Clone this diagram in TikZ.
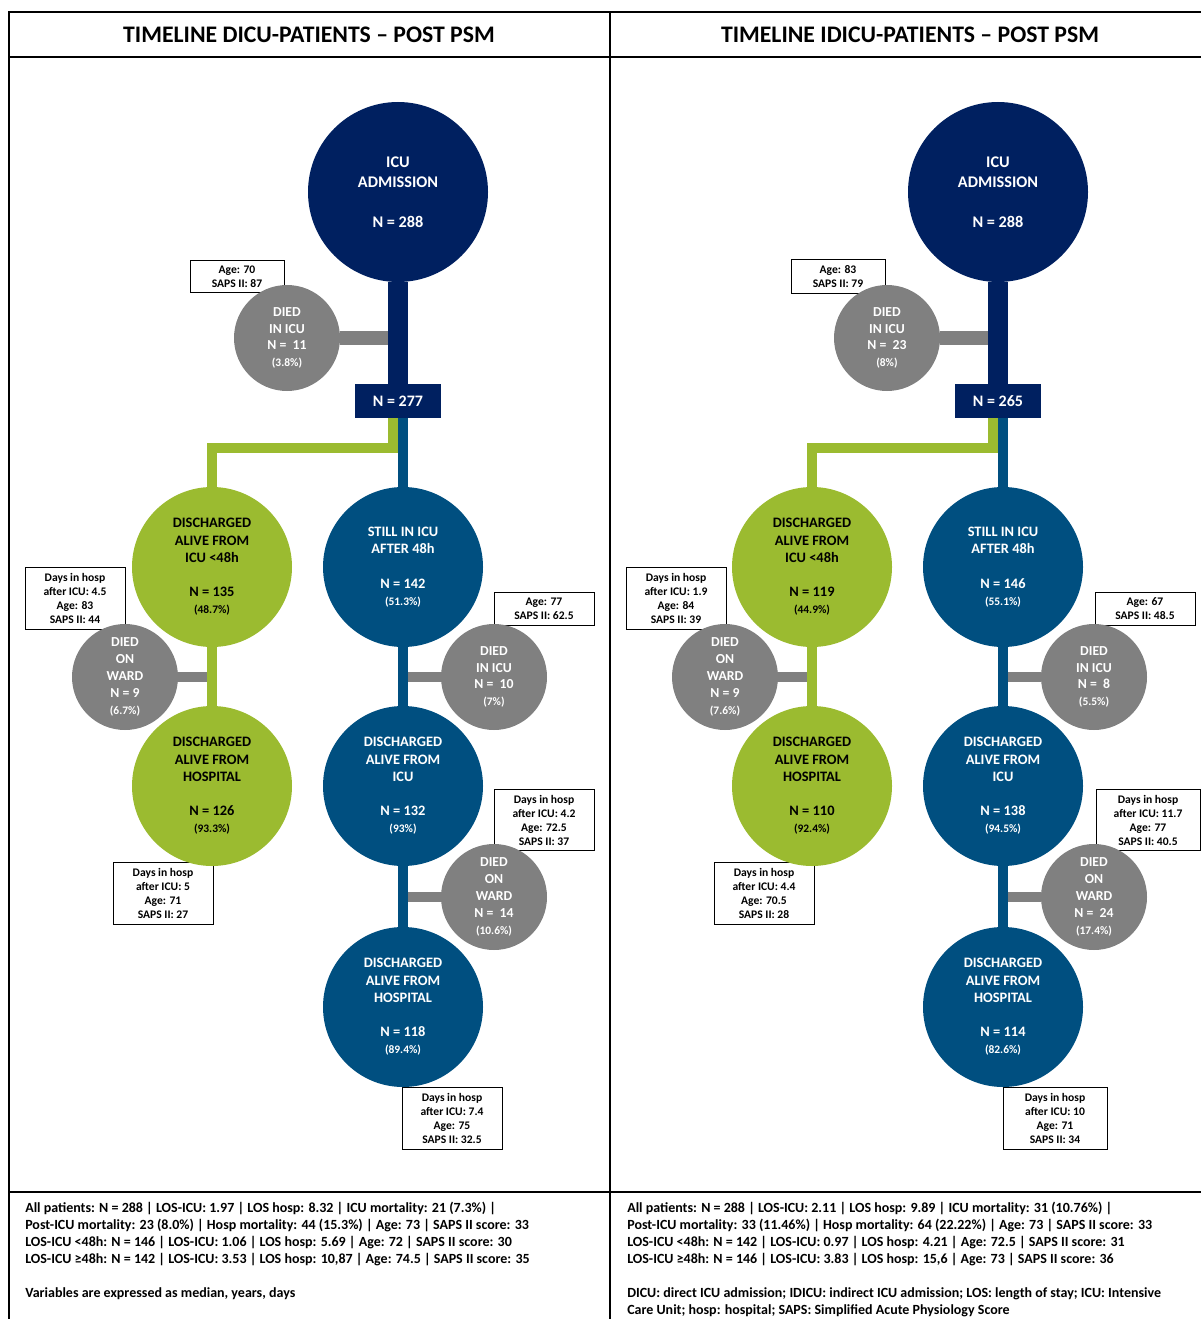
\documentclass[tikz,border=0pt]{standalone}
\usepackage{fontspec}
\setmainfont{Carlito}
\usetikzlibrary{backgrounds, positioning, calc}
\definecolor{adm_navy}{RGB}{0,32,96}
\definecolor{stay_blue}{RGB}{0,79,128}
\definecolor{early_green}{RGB}{155,187,48}
\definecolor{died_grey}{RGB}{128,128,128}
\newcommand{\pctline}[1]{{\fontsize{8.6}{9}\selectfont(#1)}}
\tikzset{
  circ_font/.style = {font=\fontsize{10.8}{12.9}\selectfont\bfseries},
  died_font/.style = {font=\fontsize{10.3}{12.6}\selectfont\bfseries},
  box_font/.style = {font=\fontsize{8.7}{10.5}\selectfont\bfseries},
  title_font/.style = {font=\fontsize{17.8}{20}\selectfont\bfseries},
  foot_font/.style = {font=\fontsize{10.5}{12.75}\selectfont\bfseries}
}
\tikzset{
  circ/.style = {circle, inner sep=0, align=center, circ_font},
  adm_circle/.style = {circ, fill=adm_navy, text=white, minimum size=135pt,
    font=\fontsize{12.2}{15}\selectfont\bfseries},
  green_circle/.style = {circ, fill=early_green, text=black, minimum size=120pt},
  blue_circle/.style = {circ, fill=stay_blue, text=white, minimum size=120pt},
  grey_circle/.style = {circ, died_font, fill=died_grey, text=white, minimum size=79.5pt},
  count_box/.style = {fill=adm_navy, text=white, minimum width=64.5pt, minimum height=25.5pt,
    inner sep=0, font=\fontsize{12}{14}\selectfont\bfseries},
  info_box/.style = {box_font, draw=black, line width=0.7pt, fill=white, align=center,
    minimum width=75pt, inner ysep=4.2pt},
  foot/.style = {foot_font, align=left, anchor=north west, inner sep=0}
}
\tikzset{
  frame_line/.style = {line width=1.5pt, draw=black},
  navy_stem/.style = {draw=adm_navy, line width=15pt},
  green_stem/.style = {draw=early_green, line width=7.5pt},
  blue_stem/.style = {draw=stay_blue, line width=7.5pt},
  grey_bar/.style = {draw=died_grey, line width=7pt}
}

\begin{document}
\begin{tikzpicture}[x=0.75pt, y=-0.75pt]
        \useasboundingbox (0,0) rectangle (1201,1319);

        % Frame
        \draw[frame_line] (9,1319) -- (9,12) -- (1201,12);
        \draw[frame_line] (9,57) -- (1201,57);
        \draw[frame_line] (610,12) -- (610,1319);
        \draw[frame_line] (9,1192) -- (1201,1192);

        % Titles
        \node[title_font] at (309,35) (l_title) {TIMELINE DICU-PATIENTS – POST PSM};
        \node[title_font] at (910,35) (r_title) {TIMELINE IDICU-PATIENTS – POST PSM};

        % Annotation boxes (left)
        \node[info_box, minimum width=70.5pt] at (237,276.5) (l_box_died_icu) {
            Age: 70\\SAPS II: 87};
        \node[info_box] at (75,598.5) (l_box_ward) {
            Days in hosp\\after ICU: 4.5\\Age: 83\\SAPS II: 44};
        \node[info_box] at (163,893.5) (l_box_early_hosp) {
            Days in hosp\\after ICU: 5\\Age: 71\\SAPS II: 27};
        \node[info_box] at (544,609) (l_box_still_icu) {
            Age: 77\\SAPS II: 62.5};
        \node[info_box] at (544,820) (l_box_late_ward) {
            Days in hosp\\after ICU: 4.2\\Age: 72.5\\SAPS II: 37};
        \node[info_box] at (452,1118.5) (l_box_late_hosp) {
            Days in hosp\\after ICU: 7.4\\Age: 75\\SAPS II: 32.5};

        % Annotation boxes (right)
        \node[info_box, minimum width=70.5pt] at (838,276.5) (r_box_died_icu) {
            Age: 83\\SAPS II: 79};
        \node[info_box] at (676,598.5) (r_box_ward) {
            Days in hosp\\after ICU: 1.9\\Age: 84\\SAPS II: 39};
        \node[info_box] at (764,893.5) (r_box_early_hosp) {
            Days in hosp\\after ICU: 4.4\\Age: 70.5\\SAPS II: 28};
        \node[info_box] at (1145,609) (r_box_still_icu) {
            Age: 67\\SAPS II: 48.5};
        \node[info_box, minimum width=78pt] at (1148,820) (r_box_late_ward) {
            Days in hosp\\after ICU: 11.7\\Age: 77\\SAPS II: 40.5};
        \node[info_box, minimum width=78pt] at (1055,1118.5) (r_box_late_hosp) {
            Days in hosp\\after ICU: 10\\Age: 71\\SAPS II: 34};

        % Timeline DICU
        \node[adm_circle] at (398,192) (l_adm) {ICU\\ADMISSION\\[15pt]N = 288};
        \node[count_box] at (398,401) (l_n) {N = 277};
        \node[grey_circle] at (287,338) (l_died_icu) {
            DIED\\IN ICU\\N = \ 11\\\pctline{3.8\%}};
        \node[green_circle] at (212,567) (l_early) {
            DISCHARGED\\ALIVE FROM\\ICU <48h\\[12.9pt]N = 135\\\pctline{48.7\%}};
        \node[blue_circle] at (403,567) (l_still) {
            STILL IN ICU\\AFTER 48h\\[12.9pt]N = 142\\\pctline{51.3\%}};
        \node[grey_circle] at (125,677) (l_ward) {
            DIED\\ON\\WARD\\N = 9\\\pctline{6.7\%}};
        \node[grey_circle] at (494,677) (l_still_icu) {
            DIED\\IN ICU\\N = \ 10\\\pctline{7\%}};
        \node[green_circle] at (212,786) (l_early_hosp) {
            DISCHARGED\\ALIVE FROM\\HOSPITAL\\[12.9pt]N = 126\\\pctline{93.3\%}};
        \node[blue_circle] at (403,786) (l_late_icu) {
            DISCHARGED\\ALIVE FROM\\ICU\\[12.9pt]N = 132\\\pctline{93\%}};
        \node[grey_circle] at (494,897) (l_late_ward) {
            DIED\\ON\\WARD\\N = \ 14\\\pctline{10.6\%}};
        \node[blue_circle] at (403,1007) (l_late_hosp) {
            DISCHARGED\\ALIVE FROM\\HOSPITAL\\[12.9pt]N = 118\\\pctline{89.4\%}};

        % Timeline IDICU
        \node[adm_circle] at (998,192) (r_adm) {ICU\\ADMISSION\\[15pt]N = 288};
        \node[count_box] at (998,401) (r_n) {N = 265};
        \node[grey_circle] at (887,338) (r_died_icu) {
            DIED\\IN ICU\\N = \ 23\\\pctline{8\%}};
        \node[green_circle] at (812,567) (r_early) {
            DISCHARGED\\ALIVE FROM\\ICU <48h\\[12.9pt]N = 119\\\pctline{44.9\%}};
        \node[blue_circle] at (1003,567) (r_still) {
            STILL IN ICU\\AFTER 48h\\[12.9pt]N = 146\\\pctline{55.1\%}};
        \node[grey_circle] at (725,677) (r_ward) {
            DIED\\ON\\WARD\\N = 9\\\pctline{7.6\%}};
        \node[grey_circle] at (1094,677) (r_still_icu) {
            DIED\\IN ICU\\N = \ 8\\\pctline{5.5\%}};
        \node[green_circle] at (812,786) (r_early_hosp) {
            DISCHARGED\\ALIVE FROM\\HOSPITAL\\[12.9pt]N = 110\\\pctline{92.4\%}};
        \node[blue_circle] at (1003,786) (r_late_icu) {
            DISCHARGED\\ALIVE FROM\\ICU\\[12.9pt]N = 138\\\pctline{94.5\%}};
        \node[grey_circle] at (1094,897) (r_late_ward) {
            DIED\\ON\\WARD\\N = \ 24\\\pctline{17.4\%}};
        \node[blue_circle] at (1003,1007) (r_late_hosp) {
            DISCHARGED\\ALIVE FROM\\HOSPITAL\\[12.9pt]N = 114\\\pctline{82.6\%}};

        % Connectors
        \begin{scope}[on background layer]
            \draw[grey_bar, line width=10.5pt] (l_died_icu) -- (l_died_icu -| l_adm);
            \draw[grey_bar] (l_ward) -- (l_ward -| l_early);
            \draw[grey_bar] (l_still_icu) -- (l_still_icu -| l_still);
            \draw[grey_bar] (l_late_ward) -- (l_late_ward -| l_late_icu);
            \draw[navy_stem] (l_adm) -- (l_n);
            \draw[green_stem] ([xshift=-3.75pt]l_n.south) -- ++(0,30) -| (l_early);
            \draw[blue_stem] ([xshift=3.75pt]l_n.south) -- (l_still);
            \draw[green_stem] (l_early) -- (l_early_hosp);
            \draw[blue_stem] (l_still) -- (l_late_icu) -- (l_late_hosp);

            \draw[grey_bar, line width=10.5pt] (r_died_icu) -- (r_died_icu -| r_adm);
            \draw[grey_bar] (r_ward) -- (r_ward -| r_early);
            \draw[grey_bar] (r_still_icu) -- (r_still_icu -| r_still);
            \draw[grey_bar] (r_late_ward) -- (r_late_ward -| r_late_icu);
            \draw[navy_stem] (r_adm) -- (r_n);
            \draw[green_stem] ([xshift=-3.75pt]r_n.south) -- ++(0,30) -| (r_early);
            \draw[blue_stem] ([xshift=3.75pt]r_n.south) -- (r_still);
            \draw[green_stem] (r_early) -- (r_early_hosp);
            \draw[blue_stem] (r_still) -- (r_late_icu) -- (r_late_hosp);
        \end{scope}

        % Footers
        \node[foot] at (25,1202) (l_foot) {
            All patients: N = 288 | LOS-ICU: 1.97 | LOS hosp: 8.32 | ICU mortality: 21 (7.3\%) |\\
            Post-ICU mortality: 23 (8.0\%) | Hosp mortality: 44 (15.3\%) | Age: 73 | SAPS II score: 33\\
            LOS-ICU <48h: N = 146 | LOS-ICU: 1.06 | LOS hosp: 5.69 | Age: 72 | SAPS II score: 30\\
            LOS-ICU ≥48h: N = 142 | LOS-ICU: 3.53 | LOS hosp: 10,87 | Age: 74.5 | SAPS II score: 35\\[12.75pt]
            Variables are expressed as median, years, days};
        \node[foot] at (627,1202) (r_foot) {
            All patients: N = 288 | LOS-ICU: 2.11 | LOS hosp: 9.89 | ICU mortality: 31 (10.76\%) |\\
            Post-ICU mortality: 33 (11.46\%) | Hosp mortality: 64 (22.22\%) | Age: 73 | SAPS II score: 33\\
            LOS-ICU <48h: N = 142 | LOS-ICU: 0.97 | LOS hosp: 4.21 | Age: 72.5 | SAPS II score: 31\\
            LOS-ICU ≥48h: N = 146 | LOS-ICU: 3.83 | LOS hosp: 15,6 | Age: 73 | SAPS II score: 36\\[12.75pt]
            DICU: direct ICU admission; IDICU: indirect ICU admission; LOS: length of stay; ICU: Intensive\\
            Care Unit; hosp: hospital; SAPS: Simplified Acute Physiology Score};
    \end{tikzpicture}
\end{document}
